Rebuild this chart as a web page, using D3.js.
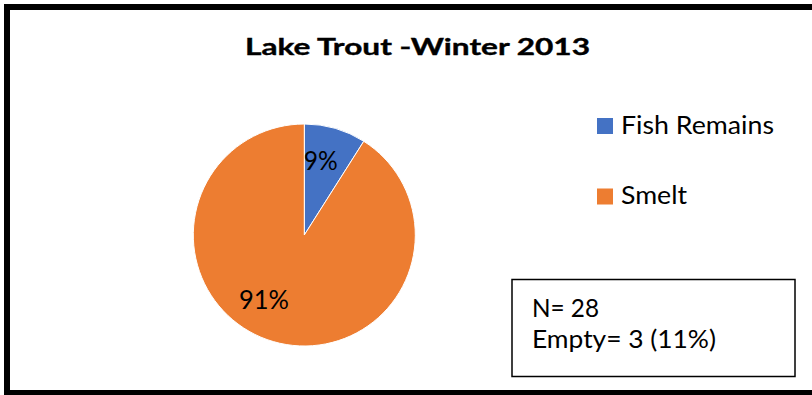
<!DOCTYPE html>
<html>
<head>
<meta charset="utf-8">
<script src="https://cdn.jsdelivr.net/npm/d3@7"></script>
<style>
  html, body { margin: 0; padding: 0; background: #fff; }
  svg { display: block; }
  text { font-family: Lato, "Open Sans", sans-serif; fill: #000; }
</style>
</head>
<body>
<svg id="chart" width="812" height="395"></svg>
<script>
// Diet composition of lake trout stomachs, winter 2013
const categories = ["Fish Remains", "Smelt"];
const percentages = [9, 91];
const colors = ["#4472C4", "#ED7D31"];
const title = "Lake Trout -Winter 2013";
const sampleSize = 28;
const emptyCount = 3;
const emptyPercent = 11;

const svg = d3.select("#chart");
const W = 812, H = 395;

// white background and heavy outer frame
svg.append("rect").attr("x", 0).attr("y", 0).attr("width", W).attr("height", H).attr("fill", "#fff");
svg.append("rect")
  .attr("x", 7).attr("y", 7)
  .attr("width", W + 20).attr("height", 386)
  .attr("fill", "none").attr("stroke", "#000").attr("stroke-width", 6);

// stretch or squeeze text to a set width
function fitText(sel, w) {
  sel.attr("textLength", w).attr("lengthAdjust", "spacingAndGlyphs");
  return sel;
}

// title
fitText(svg.append("text")
  .attr("x", 417.5).attr("y", 54.5)
  .attr("text-anchor", "middle")
  .attr("font-size", 23.5).attr("font-weight", "bold")
  .attr("stroke", "#000").attr("stroke-width", 0.4)
  .text(title), 345);

// pie
const cx = 304.3, cy = 235, r = 111;
const pie = d3.pie().sort(null).value(d => d)(percentages);
const arc = d3.arc().innerRadius(0).outerRadius(r);
const labelArc = d3.arc().innerRadius(r * 0.69).outerRadius(r * 0.69);

const g = svg.append("g").attr("transform", `translate(${cx},${cy})`);
g.selectAll("path.slice")
  .data(pie)
  .join("path")
  .attr("class", "slice")
  .attr("d", arc)
  .attr("fill", (d, i) => colors[i])
  .attr("stroke", "#fff")
  .attr("stroke-width", 1);

// data labels, nudged toward where the layout engine put them
const labelNudge = [[-5, -1], [-19, -9]];
const labelWidths = [34, 50];
g.selectAll("text.pct")
  .data(pie)
  .join("text")
  .attr("class", "pct")
  .attr("text-anchor", "middle")
  .attr("font-size", 27.5)
  .attr("x", (d, i) => labelArc.centroid(d)[0] + labelNudge[i][0])
  .attr("y", (d, i) => labelArc.centroid(d)[1] + labelNudge[i][1] + 9.5)
  .attr("textLength", (d, i) => labelWidths[i])
  .attr("lengthAdjust", "spacingAndGlyphs")
  .text(d => d.data + "%");

// legend
const legendY = d3.scalePoint().domain(categories).range([125.5, 196]);
const legendWidths = [153, 66];
const lg = svg.append("g");
const items = lg.selectAll("g").data(categories).join("g")
  .attr("transform", d => `translate(597,${legendY(d)})`);
items.append("rect")
  .attr("x", 0).attr("y", -7.5).attr("width", 16).attr("height", 16)
  .attr("fill", (d, i) => colors[i]);
items.append("text")
  .attr("x", 24).attr("y", 8.3)
  .attr("font-size", 24.5)
  .attr("textLength", (d, i) => legendWidths[i])
  .attr("lengthAdjust", "spacingAndGlyphs")
  .text(d => d);

// sample-size note box
svg.append("rect")
  .attr("x", 512).attr("y", 279.5).attr("width", 283).attr("height", 97)
  .attr("fill", "#fff").attr("stroke", "#000").attr("stroke-width", 1.5);
fitText(svg.append("text")
  .attr("x", 532).attr("y", 317)
  .attr("font-size", 24.5)
  .text(`N= ${sampleSize}`), 67);
fitText(svg.append("text")
  .attr("x", 532).attr("y", 347.5)
  .attr("font-size", 24.5)
  .text(`Empty= ${emptyCount} (${emptyPercent}%)`), 184);
</script>
</body>
</html>
